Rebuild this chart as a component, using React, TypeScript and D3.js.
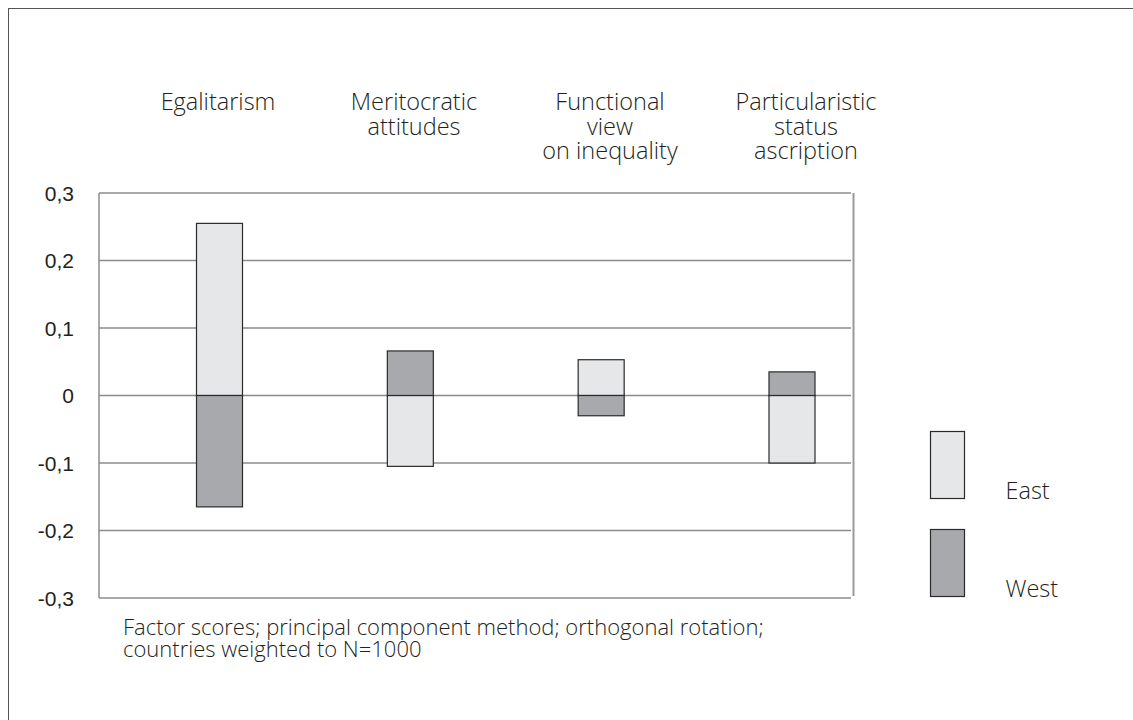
import React from 'react';
import * as d3 from 'd3';

// factor scores
const categories = ['Egalitarism', 'Meritocratic', 'Functional', 'Particularistic'];
const labelLines = [
  ['Egalitarism'],
  ['Meritocratic', 'attitudes'],
  ['Functional', 'view', 'on inequality'],
  ['Particularistic', 'status', 'ascription'],
];
const eastValues = [0.255, -0.105, 0.053, -0.1];
const westValues = [-0.165, 0.066, -0.03, 0.035];
const yTicks = [0.3, 0.2, 0.1, 0, -0.1, -0.2, -0.3];
const seriesNames = ['East', 'West'];
const footnote = [
  'Factor scores; principal component method; orthogonal rotation;',
  'countries weighted to N=1000',
];

const W = 1133;
const H = 720;
const plot = { left: 99, right: 853, top: 193, bottom: 598 };
const barWidth = 46;
const eastFill = '#e6e7e8';
const westFill = '#a7a9ac';
const barStroke = '#2b2a2b';
const gridColor = '#8c8c8c';
const textColor = '#231f20';
const labelFont = '"Open Sans", "Noto Sans", sans-serif';
const tickFont = '"Liberation Sans", Arial, sans-serif';

const App: React.FC = () => {
  const y = d3.scaleLinear().domain([-0.3, 0.3]).range([plot.bottom, plot.top]);
  const x = d3.scalePoint<string>().domain(categories).range([219.5, 792]);
  const xLabel = d3.scalePoint<string>().domain(categories).range([218, 806]);

  const bar = (cat: string, v: number, fill: string, key: string) => {
    const cx = x(cat) as number;
    const y0 = y(0);
    const y1 = y(v);
    return (
      <rect
        key={key}
        x={cx - barWidth / 2}
        y={Math.min(y0, y1)}
        width={barWidth}
        height={Math.abs(y1 - y0)}
        fill={fill}
        stroke={barStroke}
        strokeWidth={1.2}
      />
    );
  };

  return (
    <svg
      width={W}
      height={H}
      style={{ position: 'absolute', left: 0, top: 0, background: '#fff' }}
    >
      {/* outer frame, runs off the page to the right and bottom */}
      <rect x={8.5} y={8.5} width={W + 20} height={H + 20} fill="none" stroke="#555" strokeWidth={1} />

      {/* grid */}
      {yTicks.map((t) => (
        <line
          key={'g' + t}
          x1={plot.left}
          x2={plot.right - 2}
          y1={y(t)}
          y2={y(t)}
          stroke={gridColor}
          strokeWidth={1.5}
        />
      ))}
      <line x1={plot.left} x2={plot.left} y1={plot.top} y2={plot.bottom} stroke={gridColor} strokeWidth={1.5} />
      <line x1={plot.right + 0.5} x2={plot.right + 0.5} y1={plot.top} y2={plot.bottom - 2} stroke="#9a9a9a" strokeWidth={2} />

      {/* tick labels */}
      {yTicks.map((t) => (
        <text
          key={'t' + t}
          x={74}
          y={y(t)}
          dy="0.36em"
          textAnchor="end"
          fontFamily={tickFont}
          fontSize={21}
          fill={textColor}
        >
          {t === 0 ? '0' : d3.format('.1f')(t).replace('.', ',').replace('−', '-')}
        </text>
      ))}

      {/* bars */}
      {categories.map((c, i) => bar(c, eastValues[i], eastFill, 'e' + i))}
      {categories.map((c, i) => bar(c, westValues[i], westFill, 'w' + i))}

      {/* category labels */}
      {categories.map((c, i) => (
        <text
          key={'l' + i}
          x={xLabel(c)}
          y={110}
          textAnchor="middle"
          fontFamily={labelFont}
          fontWeight={300}
          fontSize={23.5}
          fill={textColor}
        >
          {labelLines[i].map((ln, j) => (
            <tspan key={j} x={xLabel(c)} dy={j === 0 ? 0 : 24.5}>
              {ln}
            </tspan>
          ))}
        </text>
      ))}

      {/* legend */}
      {seriesNames.map((s, i) => (
        <g key={s} transform={`translate(930.5,${431.5 + i * 98})`}>
          <rect width={34} height={67} fill={i === 0 ? eastFill : westFill} stroke={barStroke} strokeWidth={1.2} />
          <text
            x={75}
            y={67}
            fontFamily={labelFont}
            fontWeight={300}
            fontSize={23.5}
            fill={textColor}
          >
            {s}
          </text>
        </g>
      ))}

      {/* footnote */}
      <text x={123} y={635} fontFamily={labelFont} fontWeight={300} fontSize={22} fill={textColor}>
        {footnote.map((ln, j) => (
          <tspan key={j} x={123} dy={j === 0 ? 0 : 22}>
            {ln}
          </tspan>
        ))}
      </text>
    </svg>
  );
};

export default App;
